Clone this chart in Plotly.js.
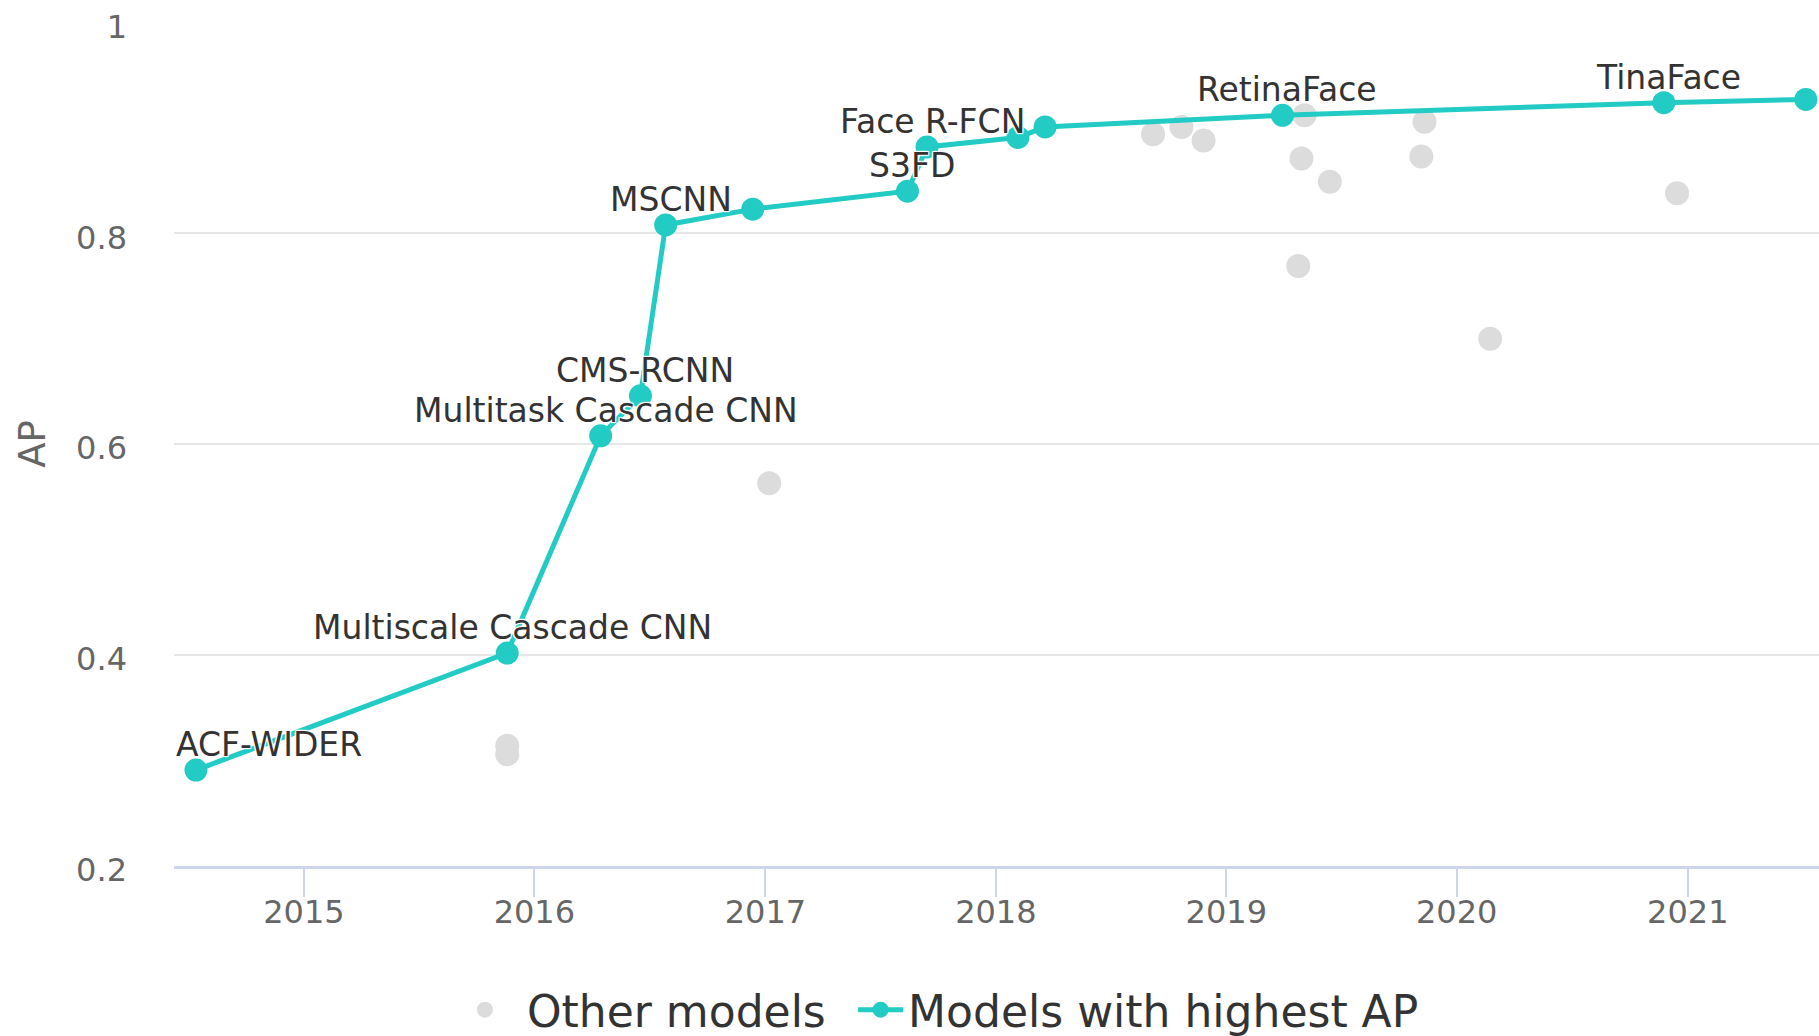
<!DOCTYPE html>
<html>
<head>
<meta charset="utf-8">
<script src="https://cdn.plot.ly/plotly-3.0.1.min.js"></script>
<style>
  html, body { margin: 0; padding: 0; background: #fff; }
  #chart { width: 1819px; height: 1036px; }
</style>
</head>
<body>
<div id="chart"></div>
<script>
// Models with highest AP (state-of-the-art frontier)
const frontierDates = ["2014-07-14", "2015-11-19", "2016-04-15", "2016-06-17", "2016-07-27",
  "2016-12-12", "2017-08-14", "2017-09-14", "2018-02-05", "2018-03-20",
  "2019-03-31", "2020-11-24", "2021-07-07"];
const frontierAP = [0.291, 0.402, 0.608, 0.646, 0.808,
  0.823, 0.840, 0.882, 0.891, 0.901,
  0.912, 0.924, 0.927];
const frontierNames = ["ACF-WIDER", "Multiscale Cascade CNN", "Multitask Cascade CNN", "CMS-RCNN", "MSCNN",
  "", "S3FD", "Face R-FCN", "", "",
  "RetinaFace", "TinaFace", ""];

// Other models
const otherDates = ["2015-11-19", "2015-11-19", "2017-01-07", "2018-09-07", "2018-10-22",
  "2018-11-26", "2019-05-05", "2019-04-30", "2019-06-14", "2019-04-25",
  "2019-11-11", "2019-11-06", "2020-02-23", "2020-12-15"];
const otherAP = [0.314, 0.306, 0.563, 0.894, 0.901,
  0.888, 0.912, 0.871, 0.849, 0.769,
  0.906, 0.873, 0.700, 0.838];

const yTicks = [0.2, 0.4, 0.6, 0.8, 1];
const xTicks = ["2015-01-01", "2016-01-01", "2017-01-01", "2018-01-01", "2019-01-01", "2020-01-01", "2021-01-01"];
const xTickText = ["2015", "2016", "2017", "2018", "2019", "2020", "2021"];

const FONT = "DejaVu Sans, Verdana, sans-serif";
const TEAL = "#22cbc4";
const GREY = "#dcdcdc";
const outline = "1px 1px 1px #fff, -1px -1px 1px #fff, 1px -1px 1px #fff, -1px 1px 1px #fff, 0 0 2px #fff";

const traces = [
  {
    type: "scatter", mode: "markers", name: "Other models",
    x: otherDates, y: otherAP,
    marker: { color: GREY, size: 24 },
    legend: "legend",
    hoverinfo: "x+y"
  },
  {
    type: "scatter", mode: "lines+markers", name: "Models with highest AP",
    x: frontierDates, y: frontierAP, text: frontierNames,
    line: { color: TEAL, width: 5 },
    marker: { color: TEAL, size: 23 },
    cliponaxis: false,
    legend: "legend2",
    hoverinfo: "text+x+y"
  }
];

const annotations = [];
frontierNames.forEach(function (name, i) {
  if (!name) return;
  const first = i === 0;
  annotations.push({
    x: frontierDates[i], y: frontierAP[i], xref: "x", yref: "y",
    text: name, showarrow: false,
    xanchor: first ? "left" : "center", yanchor: "bottom",
    xshift: first ? -22 : 5, yshift: 4,
    font: { family: FONT, size: 33, color: "#333333", shadow: outline }
  });
});

const legendFont = { family: FONT, size: 44, color: "#333333" };

const layout = {
  width: 1819, height: 1036,
  paper_bgcolor: "#ffffff", plot_bgcolor: "#ffffff",
  margin: { l: 174, r: 0, t: 22, b: 170, pad: 0 },
  font: { family: FONT, color: "#666666" },
  showlegend: true,
  legend: {
    orientation: "h", xref: "container", yref: "container",
    x: 0.2435, xanchor: "left", y: 0.025, yanchor: "middle",
    font: legendFont, bgcolor: "rgba(0,0,0,0)", itemwidth: 74
  },
  legend2: {
    orientation: "h", xref: "container", yref: "container",
    x: 0.469, xanchor: "left", y: 0.025, yanchor: "middle",
    font: legendFont, bgcolor: "rgba(0,0,0,0)", itemwidth: 45
  },
  xaxis: {
    type: "date",
    range: ["2014-06-09 05:00", "2021-07-27 20:00"],
    tickvals: xTicks, ticktext: xTickText,
    showgrid: false, zeroline: false,
    showline: true, linecolor: "#ccd6eb", linewidth: 3,
    ticks: "outside", ticklen: 28, tickwidth: 2, tickcolor: "#ccd6eb",
    ticklabelstandoff: -12,
    tickfont: { family: FONT, size: 32, color: "#666666" },
    fixedrange: true
  },
  yaxis: {
    range: [0.2, 1.0005],
    tickvals: yTicks,
    showgrid: true, gridcolor: "#e6e6e6", gridwidth: 2,
    zeroline: false, showline: false, ticks: "",
    ticklabelstandoff: 46, ticklabelshift: 4,
    tickfont: { family: FONT, size: 32, color: "#666666" },
    title: { text: "AP", font: { family: FONT, size: 37, color: "#666666" }, standoff: 19 },
    fixedrange: true
  },
  annotations: annotations
};

Plotly.newPlot("chart", traces, layout, { displayModeBar: false, staticPlot: true });
</script>
</body>
</html>
